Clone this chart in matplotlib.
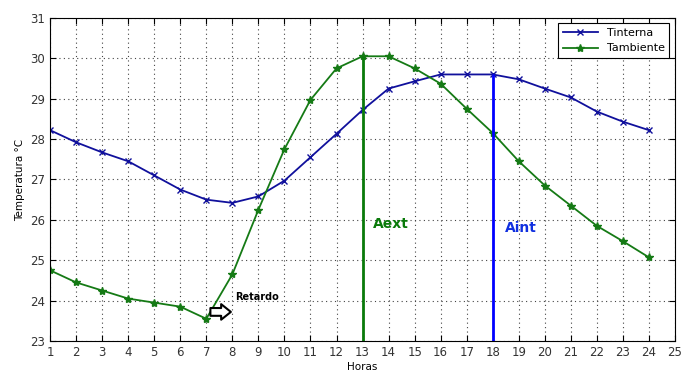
import numpy as np
import matplotlib
matplotlib.use('Agg')
import matplotlib.pyplot as plt

# Hourly data
horas = list(range(1, 25))
tinterna = [28.22, 27.92, 27.67, 27.45, 27.10, 26.75, 26.50, 26.42, 26.58, 26.97,
            27.55, 28.13, 28.72, 29.25, 29.43, 29.60, 29.60, 29.60, 29.48, 29.25,
            29.03, 28.68, 28.43, 28.22]
tambiente = [24.75, 24.45, 24.25, 24.05, 23.95, 23.85, 23.55, 24.65, 26.25, 27.75,
             28.97, 29.75, 30.05, 30.05, 29.75, 29.37, 28.75, 28.15, 27.45, 26.85,
             26.35, 25.85, 25.47, 25.07]
xticks = list(range(1, 26))
yticks = list(range(23, 32))

blue = '#10109c'
green = '#157a15'

fig = plt.figure(figsize=(6.86, 3.81), dpi=100)
ax = fig.add_axes([0.073, 0.105, 0.911, 0.848])

ax.plot(horas, tinterna, color=blue, marker='x', markersize=4, lw=1.3, label='Tinterna')
ax.plot(horas, tambiente, color=green, marker='*', markersize=6, lw=1.3, label='Tambiente')

# Peak markers
i_ext = horas.index(13)
i_int = horas.index(18)
ax.vlines(horas[i_ext], 23, tambiente[i_ext], color='#0a7a0a', lw=2)
ax.vlines(horas[i_int], 23, tinterna[i_int], color='#0000ff', lw=2)
ax.text(13.4, 25.9, 'Aext', color='#0a7a0a', fontsize=10, fontweight='bold', va='center')
ax.text(18.45, 25.8, 'Aint', color='#1030e0', fontsize=10, fontweight='bold', va='center')

ax.text(8.12, 24.1, 'Retardo', color='black', fontsize=7, fontweight='bold', va='center')
ax.annotate('', xy=(8.05, 23.72), xytext=(7.05, 23.72),
            arrowprops=dict(arrowstyle='simple,head_length=0.5,head_width=0.8,tail_width=0.4',
                            mutation_scale=14, fc='white', ec='black', lw=1.5))

ax.set_xlim(1, 25)
ax.set_ylim(23, 31)
ax.set_xticks(xticks)
ax.set_yticks(yticks)
ax.tick_params(direction='in', top=True, right=True, labelsize=8.5, length=4,
               labelcolor='#333333')
ax.grid(True, linestyle=(0, (1, 3)), color='#444444', lw=0.8)
ax.set_xlabel('Horas', fontsize=7.5, labelpad=2)
ax.set_ylabel('Temperatura °C', fontsize=7.5, labelpad=4)

leg = ax.legend(loc='upper right', fontsize=8, fancybox=False, edgecolor='black',
                framealpha=1, borderpad=0.4, handlelength=3.2)
leg.get_frame().set_linewidth(0.8)

fig.savefig('out.png', dpi=100)
